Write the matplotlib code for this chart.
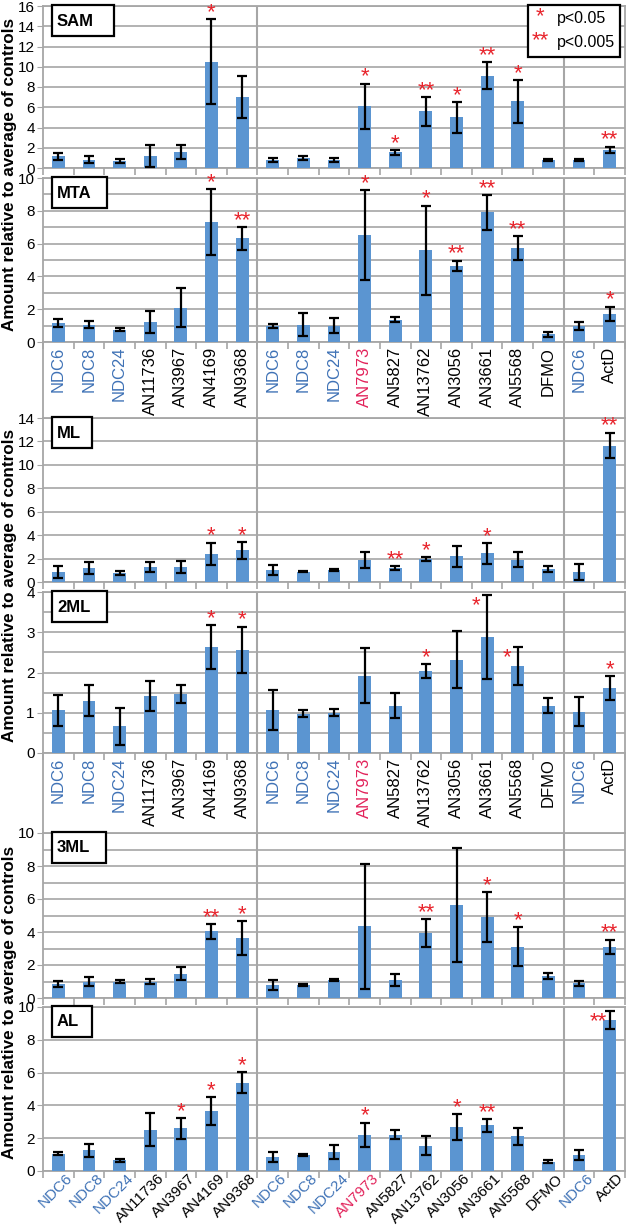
import matplotlib
matplotlib.use("Agg")
import matplotlib.pyplot as plt
from matplotlib.patches import Rectangle
from matplotlib.ticker import MultipleLocator, FixedLocator
import matplotlib.transforms as mtransforms

plt.rcParams['font.family'] = ['Liberation Sans', 'DejaVu Sans']

# categories (same order in every panel)
labels = ["NDC6", "NDC8", "NDC24", "AN11736", "AN3967", "AN4169", "AN9368",
          "NDC6", "NDC8", "NDC24", "AN7973", "AN5827", "AN13762", "AN3056",
          "AN3661", "AN5568", "DFMO", "NDC6", "ActD"]
kinds = ["ctrl", "ctrl", "ctrl", "drug", "drug", "drug", "drug",
         "ctrl", "ctrl", "ctrl", "ref", "drug", "drug", "drug",
         "drug", "drug", "drug", "ctrl", "drug"]

# values (mean, error bar half-width, significance)
sam_mean = [1.15, 0.82, 0.66, 1.15, 1.58, 10.5, 7.0, 0.82, 0.99, 0.79, 6.09, 1.55, 5.59, 5.0, 9.11, 6.58, 0.82, 0.82, 1.81]
sam_err = [0.33, 0.32, 0.2, 1.1, 0.74, 4.2, 2.1, 0.2, 0.23, 0.16, 2.24, 0.25, 1.45, 1.5, 1.32, 2.1, 0.1, 0.1, 0.3]
sam_sig = ["", "", "", "", "", "*", "", "", "", "", "*", "*", "**", "*", "**", "*", "", "", "**"]

mta_mean = [1.16, 1.06, 0.76, 1.22, 2.1, 7.3, 6.33, 0.98, 1.06, 0.98, 6.53, 1.37, 5.6, 4.63, 7.9, 5.73, 0.47, 1.0, 1.73]
mta_err = [0.22, 0.2, 0.08, 0.66, 1.17, 2.0, 0.7, 0.1, 0.7, 0.46, 2.73, 0.18, 2.72, 0.33, 1.07, 0.75, 0.14, 0.25, 0.43]
mta_sig = ["", "", "", "", "", "*", "**", "", "", "", "*", "", "*", "**", "**", "**", "", "", "*"]

ml_mean = [0.88, 1.17, 0.77, 1.28, 1.28, 2.42, 2.7, 1.03, 0.88, 1.03, 1.9, 1.2, 1.97, 2.2, 2.45, 1.9, 1.14, 0.88, 11.65]
ml_err = [0.52, 0.52, 0.18, 0.45, 0.52, 0.94, 0.7, 0.42, 0.05, 0.07, 0.7, 0.16, 0.15, 0.88, 0.9, 0.65, 0.25, 0.67, 1.1]
ml_sig = ["", "", "", "", "", "*", "*", "", "", "", "", "**", "*", "", "*", "", "", "", "**"]

ml2_mean = [1.06, 1.3, 0.67, 1.42, 1.46, 2.63, 2.56, 1.06, 0.98, 1.0, 1.92, 1.18, 2.04, 2.32, 2.88, 2.16, 1.18, 1.02, 1.62]
ml2_err = [0.38, 0.38, 0.46, 0.37, 0.22, 0.54, 0.58, 0.5, 0.08, 0.09, 0.69, 0.31, 0.17, 0.71, 1.04, 0.47, 0.18, 0.36, 0.3]
ml2_sig = ["", "", "", "", "", "*", "*", "", "", "", "", "", "*", "", "*", "*", "", "", "*"]

ml3_mean = [0.85, 1.0, 1.0, 1.0, 1.47, 4.04, 3.64, 0.8, 0.8, 1.1, 4.34, 1.1, 3.93, 5.65, 4.9, 3.1, 1.31, 0.9, 3.1]
ml3_err = [0.2, 0.3, 0.12, 0.13, 0.4, 0.46, 1.02, 0.3, 0.07, 0.05, 3.77, 0.38, 0.83, 3.45, 1.52, 1.19, 0.18, 0.15, 0.44]
ml3_sig = ["", "", "", "", "", "**", "*", "", "", "", "", "", "**", "", "*", "*", "", "", "**"]

al_mean = [1.06, 1.26, 0.65, 2.52, 2.6, 3.66, 5.39, 0.85, 0.96, 1.16, 2.2, 2.2, 1.54, 2.68, 2.78, 2.11, 0.57, 0.96, 9.19]
al_err = [0.1, 0.39, 0.11, 1.0, 0.63, 0.83, 0.64, 0.33, 0.05, 0.41, 0.75, 0.27, 0.57, 0.8, 0.39, 0.5, 0.1, 0.3, 0.56]
al_sig = ["", "", "", "", "*", "*", "*", "", "", "", "*", "", "", "*", "**", "", "", "", "**"]

panels = [
    ("SAM", sam_mean, sam_err, sam_sig),
    ("MTA", mta_mean, mta_err, mta_sig),
    ("ML", ml_mean, ml_err, ml_sig),
    ("2ML", ml2_mean, ml2_err, ml2_sig),
    ("3ML", ml3_mean, ml3_err, ml3_sig),
    ("AL", al_mean, al_err, al_sig),
]

# layout in pixels
W, H = 630, 1229
X0, X1 = 43, 625
rows = [(6, 168), (178, 342), (418, 582), (592, 753), (833, 998), (1007, 1171)]
ylims = [(16, 2, None), (10, 2, 1), (14, 2, None), (4, 1, 0.5), (10, 2, 1), (10, 2, None)]
box_w = [62, 55, 40, 55, 54, 40]
star_left = {(3, 14), (3, 15), (5, 18)}
label_gap = {1: 76, 3: 80}   # label area below these panels, px
rot = {1: 90, 3: 90, 5: 45}

bar_color = "#5b95d1"
grid_color = "#a6a6a6"
red = "#e8242c"
kind_color = {"ctrl": "#3f72b6", "drug": "black", "ref": "#e2225a"}

fig = plt.figure(figsize=(W / 100, H / 100), dpi=100)
x = list(range(len(labels)))

for p, (name, mean, err, sig) in enumerate(panels):
    top, bot = rows[p]
    ax = fig.add_axes([X0 / W, 1 - bot / H, (X1 - X0) / W, (bot - top) / H])
    ymax, step, minor = ylims[p]
    ax.bar(x, mean, width=0.42, color=bar_color, zorder=3)
    ax.errorbar(x, mean, yerr=err, fmt="none", ecolor="black", elinewidth=1.6,
                capsize=3.6, capthick=1.6, zorder=4)
    ax.set_xlim(-0.5, len(labels) - 0.5)
    ax.set_ylim(0, ymax)
    ax.yaxis.set_major_locator(MultipleLocator(step))
    if minor:
        ax.yaxis.set_minor_locator(MultipleLocator(minor))
        ax.grid(axis="y", which="minor", color=grid_color, lw=1.2, zorder=0)
    ax.grid(axis="y", which="major", color=grid_color, lw=1.2, zorder=0)
    ax.tick_params(axis="y", which="minor", length=0)
    ax.tick_params(axis="y", which="major", length=4, color=grid_color, labelsize=11, pad=2)
    for xv in (6.5, 16.5):
        ax.axvline(xv, color=grid_color, lw=1.5, zorder=1)
    for s in ax.spines.values():
        s.set_color(grid_color)
        s.set_linewidth(1.3)

    ax.xaxis.set_minor_locator(FixedLocator([i - 0.5 for i in range(len(labels) + 1)]))
    ax.tick_params(axis="x", which="minor", length=5, color=grid_color, width=1.2)
    ax.set_xticks(x)
    ax.tick_params(axis="x", which="major", length=0)
    if p in rot:
        if rot[p] == 90:
            ax.set_xticklabels(labels, rotation=90, fontsize=12, va="top", ha="center")
        else:
            ax.tick_params(axis="x", which="major", pad=0)
            ax.set_xticklabels(labels, rotation=45, fontsize=11, ha="right", va="top",
                               rotation_mode="anchor")
            shift = mtransforms.ScaledTranslation(7 / 100, 0, fig.dpi_scale_trans)
            for t in ax.get_xticklabels():
                t.set_transform(t.get_transform() + shift)
        for t, k in zip(ax.get_xticklabels(), kinds):
            t.set_color(kind_color[k])
    else:
        ax.set_xticklabels([])

    # frame lines running through the label rows
    if p in label_gap:
        d = label_gap[p] / (bot - top)
        for xv in (-0.5, 6.5, 16.5, len(labels) - 0.5):
            ax.plot([xv, xv], [0, -d], color=grid_color, lw=1.3,
                    transform=ax.get_xaxis_transform(), clip_on=False)

    # significance stars
    for i, s in enumerate(sig):
        if not s:
            continue
        if (p, i) in star_left:
            ax.annotate(s, (i, mean[i] + err[i]), xytext=(-11, -16), textcoords="offset pixels",
                        ha="center", va="baseline", color=red, fontsize=16)
        else:
            ax.annotate(s, (i, mean[i] + err[i]), xytext=(0, 1), textcoords="offset pixels",
                        ha="center", va="baseline", color=red, fontsize=16)

    # panel name box
    bx, by = 52, top - 1
    fig.patches.append(Rectangle((bx / W, 1 - (by + 31) / H), box_w[p] / W, 31 / H,
                                 transform=fig.transFigure, fc="white", ec="black", lw=1.6, zorder=5))
    fig.text((bx + 5) / W, 1 - (by + 16) / H, name, fontsize=12, fontweight="bold",
             va="center", ha="left", zorder=6)

# y-axis titles, one per block
for top, bot in [(6, 342), (418, 753), (833, 1171)]:
    fig.text(10 / W, 1 - (top + bot) / 2 / H, "Amount relative to average of controls",
             rotation=90, ha="center", va="center", fontsize=12.3, fontweight="bold")

# legend box
fig.patches.append(Rectangle((528 / W, 1 - 57 / H), 92 / W, 52 / H, transform=fig.transFigure,
                             fc="white", ec="black", lw=1.6, zorder=5))
fig.text(540 / W, 1 - 22 / H, "*", color=red, fontsize=16, ha="center", va="baseline", zorder=6)
fig.text(557 / W, 1 - 18 / H, "p<0.05", fontsize=11.5, ha="left", va="center", zorder=6)
fig.text(540 / W, 1 - 46 / H, "**", color=red, fontsize=16, ha="center", va="baseline", zorder=6)
fig.text(557 / W, 1 - 42 / H, "p<0.005", fontsize=11.5, ha="left", va="center", zorder=6)

fig.savefig("out.png", dpi=100)
